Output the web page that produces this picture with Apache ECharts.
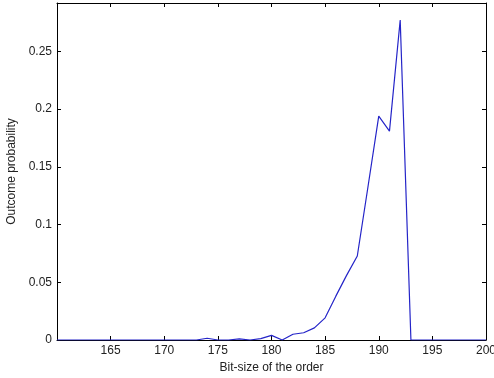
<!DOCTYPE html>
<html>
<head>
<meta charset="utf-8">
<script src="https://cdn.jsdelivr.net/npm/echarts@6/dist/echarts.min.js"></script>
<style>
  html, body { margin: 0; padding: 0; background: #fff; }
  #chart { width: 494px; height: 378px; }
</style>
</head>
<body>
<div id="chart"></div>
<script>
// Bit-size of the order (x) and the probability of each outcome (y)
const bitSizes = [160, 161, 162, 163, 164, 165, 166, 167, 168, 169,
                  170, 171, 172, 173, 174, 175, 176, 177, 178, 179,
                  180, 181, 182, 183, 184, 185, 186, 187, 188, 189,
                  190, 191, 192, 193, 194, 195, 196, 197, 198, 199, 200];
const probabilities = [0, 0, 0, 0, 0, 0, 0, 0, 0, 0,
                       0, 0, 0, 0, 0.0015, 0, 0, 0.001, 0, 0.0012,
                       0.004, 0, 0.005, 0.0063, 0.0105, 0.0192, 0.038, 0.056, 0.0728, 0.133,
                       0.194, 0.181, 0.2773, 0, 0, 0, 0, 0, 0, 0, 0];
const xTicks = { min: 160, max: 200, step: 5 };
const yTicks = { min: 0, max: 0.292, step: 0.05 };

const fontFamily = 'Liberation Sans, Arial, sans-serif';
const axisColor = '#000';
const textColor = '#222';

const chart = echarts.init(document.getElementById('chart'), null, { renderer: 'canvas' });

function frameAxis(base, extra) {
  return Object.assign({
    type: 'value',
    min: base.min,
    max: base.max,
    interval: base.step,
    axisLine: { show: true, onZero: false, lineStyle: { color: axisColor, width: 1 } },
    axisTick: { show: true, inside: true, length: 4, lineStyle: { color: axisColor, width: 1 } },
    splitLine: { show: false },
    axisLabel: { show: false }
  }, extra);
}

chart.setOption({
  animation: false,
  backgroundColor: '#fff',
  grid: { left: 57, right: 8, top: 3, bottom: 38, containLabel: false, outerBoundsMode: 'none' },
  xAxis: [
    frameAxis(xTicks, {
      position: 'bottom',
      name: 'Bit-size of the order',
      nameLocation: 'middle',
      nameGap: 22,
      nameTextStyle: { color: textColor, fontSize: 12, fontFamily: fontFamily },
      axisLabel: {
        show: true, color: textColor, fontSize: 12, fontFamily: fontFamily, margin: 5,
        showMinLabel: false,
        formatter: v => (v === xTicks.min ? '' : String(v))
      }
    }),
    frameAxis(xTicks, { position: 'top' })
  ],
  yAxis: [
    frameAxis(yTicks, {
      position: 'left',
      name: 'Outcome probability',
      nameLocation: 'middle',
      nameGap: 34,
      nameTextStyle: { color: textColor, fontSize: 12, fontFamily: fontFamily },
      axisLabel: {
        show: true, color: textColor, fontSize: 12, fontFamily: fontFamily, margin: 5,
        showMaxLabel: false,
        formatter: v => String(+v.toFixed(2))
      }
    }),
    frameAxis(yTicks, { position: 'right' })
  ],
  series: [{
    type: 'line',
    xAxisIndex: 0,
    yAxisIndex: 0,
    data: bitSizes.map((b, i) => [b, probabilities[i]]),
    showSymbol: false,
    symbol: 'none',
    lineStyle: { color: '#2424c8', width: 1.2 },
    z: 5
  }]
});
</script>
</body>
</html>
